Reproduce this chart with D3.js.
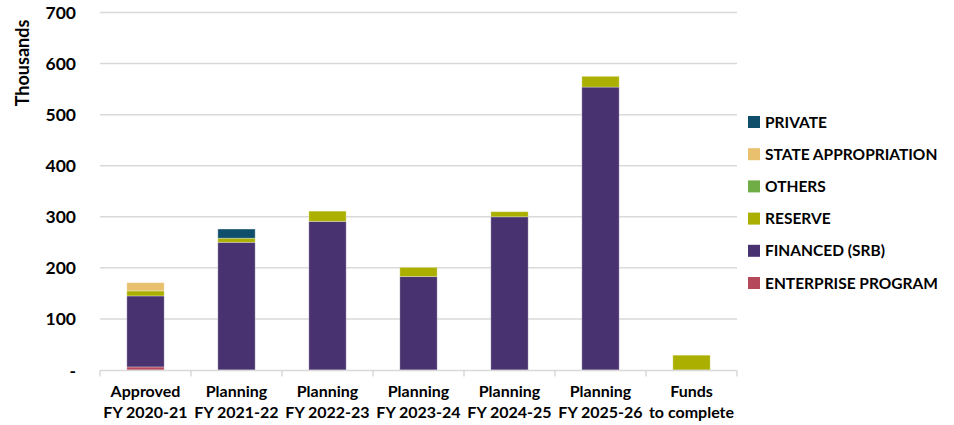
<!DOCTYPE html>
<html>
<head>
<meta charset="utf-8">
<script src="https://cdn.jsdelivr.net/npm/d3@7"></script>
<style>
  body { margin: 0; background: #fff; }
  text { font-family: Lato, "Open Sans", sans-serif; font-weight: bold; fill: #000; }
</style>
</head>
<body>
<div id="svgcontainer"></div>
<script>
var categories = [["Approved", "FY 2020-21"], ["Planning", "FY 2021-22"], ["Planning", "FY 2022-23"],
                  ["Planning", "FY 2023-24"], ["Planning", "FY 2024-25"], ["Planning", "FY 2025-26"],
                  ["Funds", "to complete"]];
// stack order bottom -> top
var seriesNames = ["ENTERPRISE PROGRAM", "FINANCED (SRB)", "RESERVE", "OTHERS", "STATE APPROPRIATION", "PRIVATE"];
var enterprise = [6, 0, 0, 0, 0, 0, 0];
var financed   = [139, 250, 291, 183, 300, 554, 0];
var reserve    = [10, 8, 20, 18, 10, 21, 29];
var others     = [0, 0, 0, 0, 0, 0, 0];
var stateApp   = [16, 0, 0, 0, 0, 0, 0];
var privateF   = [0, 18, 0, 0, 0, 0, 0];
var colors = ["#b5495b", "#48326f", "#abb000", "#70ad47", "#e8c06e", "#0f4f6c"];
var yTicks = [0, 100, 200, 300, 400, 500, 600, 700];

var width = 954, height = 425;
var margin = {left: 100, right: 217, top: 12.5, bottom: 55};

var rows = categories.map(function(c, i) {
    return {key: i, ENTERPRISE: enterprise[i], FINANCED: financed[i], RESERVE: reserve[i],
            OTHERS: others[i], STATE: stateApp[i], PRIVATE: privateF[i]};
});
var keys = ["ENTERPRISE", "FINANCED", "RESERVE", "OTHERS", "STATE", "PRIVATE"];
var stacked = d3.stack().keys(keys)(rows);

var svg = d3.select("#svgcontainer")
            .append("svg")
            .attr("width", width)
            .attr("height", height);

var x = d3.scaleBand()
            .domain(d3.range(categories.length))
            .range([margin.left, width - margin.right])
            .paddingInner(0.59)
            .paddingOuter(0.295);
var xOuter = d3.scaleBand()
            .domain(d3.range(categories.length))
            .range([margin.left, width - margin.right]);
var y = d3.scaleLinear()
            .domain([0, 700])
            .range([height - margin.bottom, margin.top]);

// gridlines
svg.append("g")
    .selectAll("line")
    .data(yTicks.slice(1))
    .enter()
    .append("line")
    .attr("x1", margin.left)
    .attr("x2", width - margin.right)
    .attr("y1", function(d){ return y(d); })
    .attr("y2", function(d){ return y(d); })
    .attr("stroke", "#d9d9d9")
    .attr("stroke-width", 1.5);

// y labels
svg.append("g")
    .selectAll("text")
    .data(yTicks)
    .enter()
    .append("text")
    .attr("x", 76)
    .attr("y", function(d){ return y(d) + 6.5; })
    .attr("text-anchor", "end")
    .attr("font-size", "17.5px")
    .text(function(d){ return d === 0 ? "-" : d; });

svg.append("text")
    .attr("transform", "translate(29,63) rotate(-90)")
    .attr("text-anchor", "middle")
    .attr("font-size", "18px")
    .text("Thousands");

// bars
var layer = svg.append("g")
    .selectAll("g")
    .data(stacked)
    .enter()
    .append("g")
    .attr("fill", function(d, i){ return colors[i]; });

layer.selectAll("rect")
    .data(function(d){ return d.filter(function(p){ return p[1] - p[0] > 0; }); })
    .enter()
    .append("rect")
    .attr("x", function(d){ return x(d.data.key); })
    .attr("width", x.bandwidth())
    .attr("y", function(d){ return y(d[1]); })
    .attr("height", function(d){ return y(d[0]) - y(d[1]); })
    .attr("stroke", "#ffffff")
    .attr("stroke-opacity", 0.3)
    .attr("stroke-width", 1);

// x axis line and ticks
var axisY = y(0) + 0.5;
svg.append("line")
    .attr("x1", margin.left)
    .attr("x2", width - margin.right)
    .attr("y1", axisY)
    .attr("y2", axisY)
    .attr("stroke", "#d9d9d9")
    .attr("stroke-width", 1.5);
var tickPos = d3.range(categories.length).map(function(i){ return xOuter(i); }).concat([width - margin.right]);
svg.append("g")
    .selectAll("line")
    .data(tickPos)
    .enter()
    .append("line")
    .attr("x1", function(d){ return d; })
    .attr("x2", function(d){ return d; })
    .attr("y1", axisY)
    .attr("y2", axisY + 6)
    .attr("stroke", "#d9d9d9")
    .attr("stroke-width", 1.5);

// x labels
var xl = svg.append("g")
    .selectAll("text")
    .data(categories)
    .enter()
    .append("text")
    .attr("text-anchor", "middle")
    .attr("font-size", "16px");
xl.append("tspan")
    .attr("x", function(d, i){ return x(i) + x.bandwidth() / 2; })
    .attr("y", 397)
    .text(function(d){ return d[0]; });
xl.append("tspan")
    .attr("x", function(d, i){ return x(i) + x.bandwidth() / 2; })
    .attr("y", 418)
    .text(function(d){ return d[1]; });

// legend (top -> bottom is reverse stack order)
var legendItems = seriesNames.map(function(n, i){ return {name: n, color: colors[i]}; }).reverse();
var lg = svg.append("g")
    .selectAll("g")
    .data(legendItems)
    .enter()
    .append("g")
    .attr("transform", function(d, i){ return "translate(748," + (122 + i * 32.2) + ")"; });
lg.append("rect")
    .attr("x", 0)
    .attr("y", -6)
    .attr("width", 12)
    .attr("height", 12)
    .attr("fill", function(d){ return d.color; });
lg.append("text")
    .attr("x", 17)
    .attr("y", 5.5)
    .attr("font-size", "15.5px")
    .text(function(d){ return d.name; });
</script>
</body>
</html>
